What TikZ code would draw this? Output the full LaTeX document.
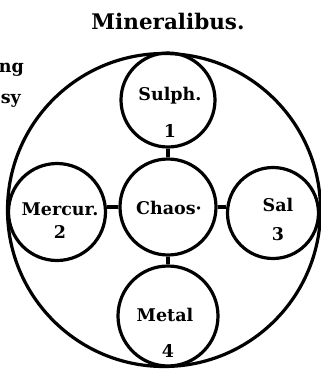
\documentclass[tikz,border=0pt]{standalone}
\usepackage{fontspec}
\setmainfont{DejaVu Serif}
\begin{document}
\begin{tikzpicture}[x=1pt,y=-1pt,
  ring/.style={circle,draw,line width=3.2pt,inner sep=0pt},
  lbl/.style={font=\bfseries\fontsize{17.5}{20}\selectfont,inner sep=0pt,anchor=base},
  link/.style={line width=3.2pt}]
\useasboundingbox (0,0) rectangle (321,376);
\node[circle,draw,line width=3.2pt,minimum size=313pt,inner sep=0pt] (outer) at (164,210) {};
\node[ring,minimum size=94pt] (sulph) at (168,100) {};
\node[ring,minimum size=96pt] (chaos) at (168,207) {};
\node[ring,minimum size=97pt] (mercur) at (57,212) {};
\node[ring,minimum size=91pt] (sal) at (273,213) {};
\node[ring,minimum size=100pt] (metal) at (168,316) {};
\draw[link] (sulph.south) -- (chaos.north);
\draw[link] (chaos.south) -- (metal.north);
\draw[link] (chaos.west) -- (chaos.west -| mercur.east);
\draw[link] (chaos.east) -- (chaos.east -| sal.west);
\node[lbl] (t1) at (170,100) {Sulph.};
\node[lbl] (n1) at (170,137) {1};
\node[lbl] (t2) at (60,215) {Mercur.};
\node[lbl] (n2) at (60,238) {2};
\node[lbl] (t0) at (169,214) {Chaos·};
\node[lbl] (t3) at (278,211) {Sal};
\node[lbl] (n3) at (278,240) {3};
\node[lbl] (t4) at (165,321) {Metal};
\node[lbl] (n4) at (168,357) {4};
\node[font=\bfseries\fontsize{21.5}{24}\selectfont,inner sep=0pt,anchor=base] (title) at (168,29) {Mineralibus.};
\node[lbl,anchor=base east] (f1) at (24,72) {ng};
\node[lbl,anchor=base east] (f2) at (21,103) {sy};
\end{tikzpicture}
\end{document}
